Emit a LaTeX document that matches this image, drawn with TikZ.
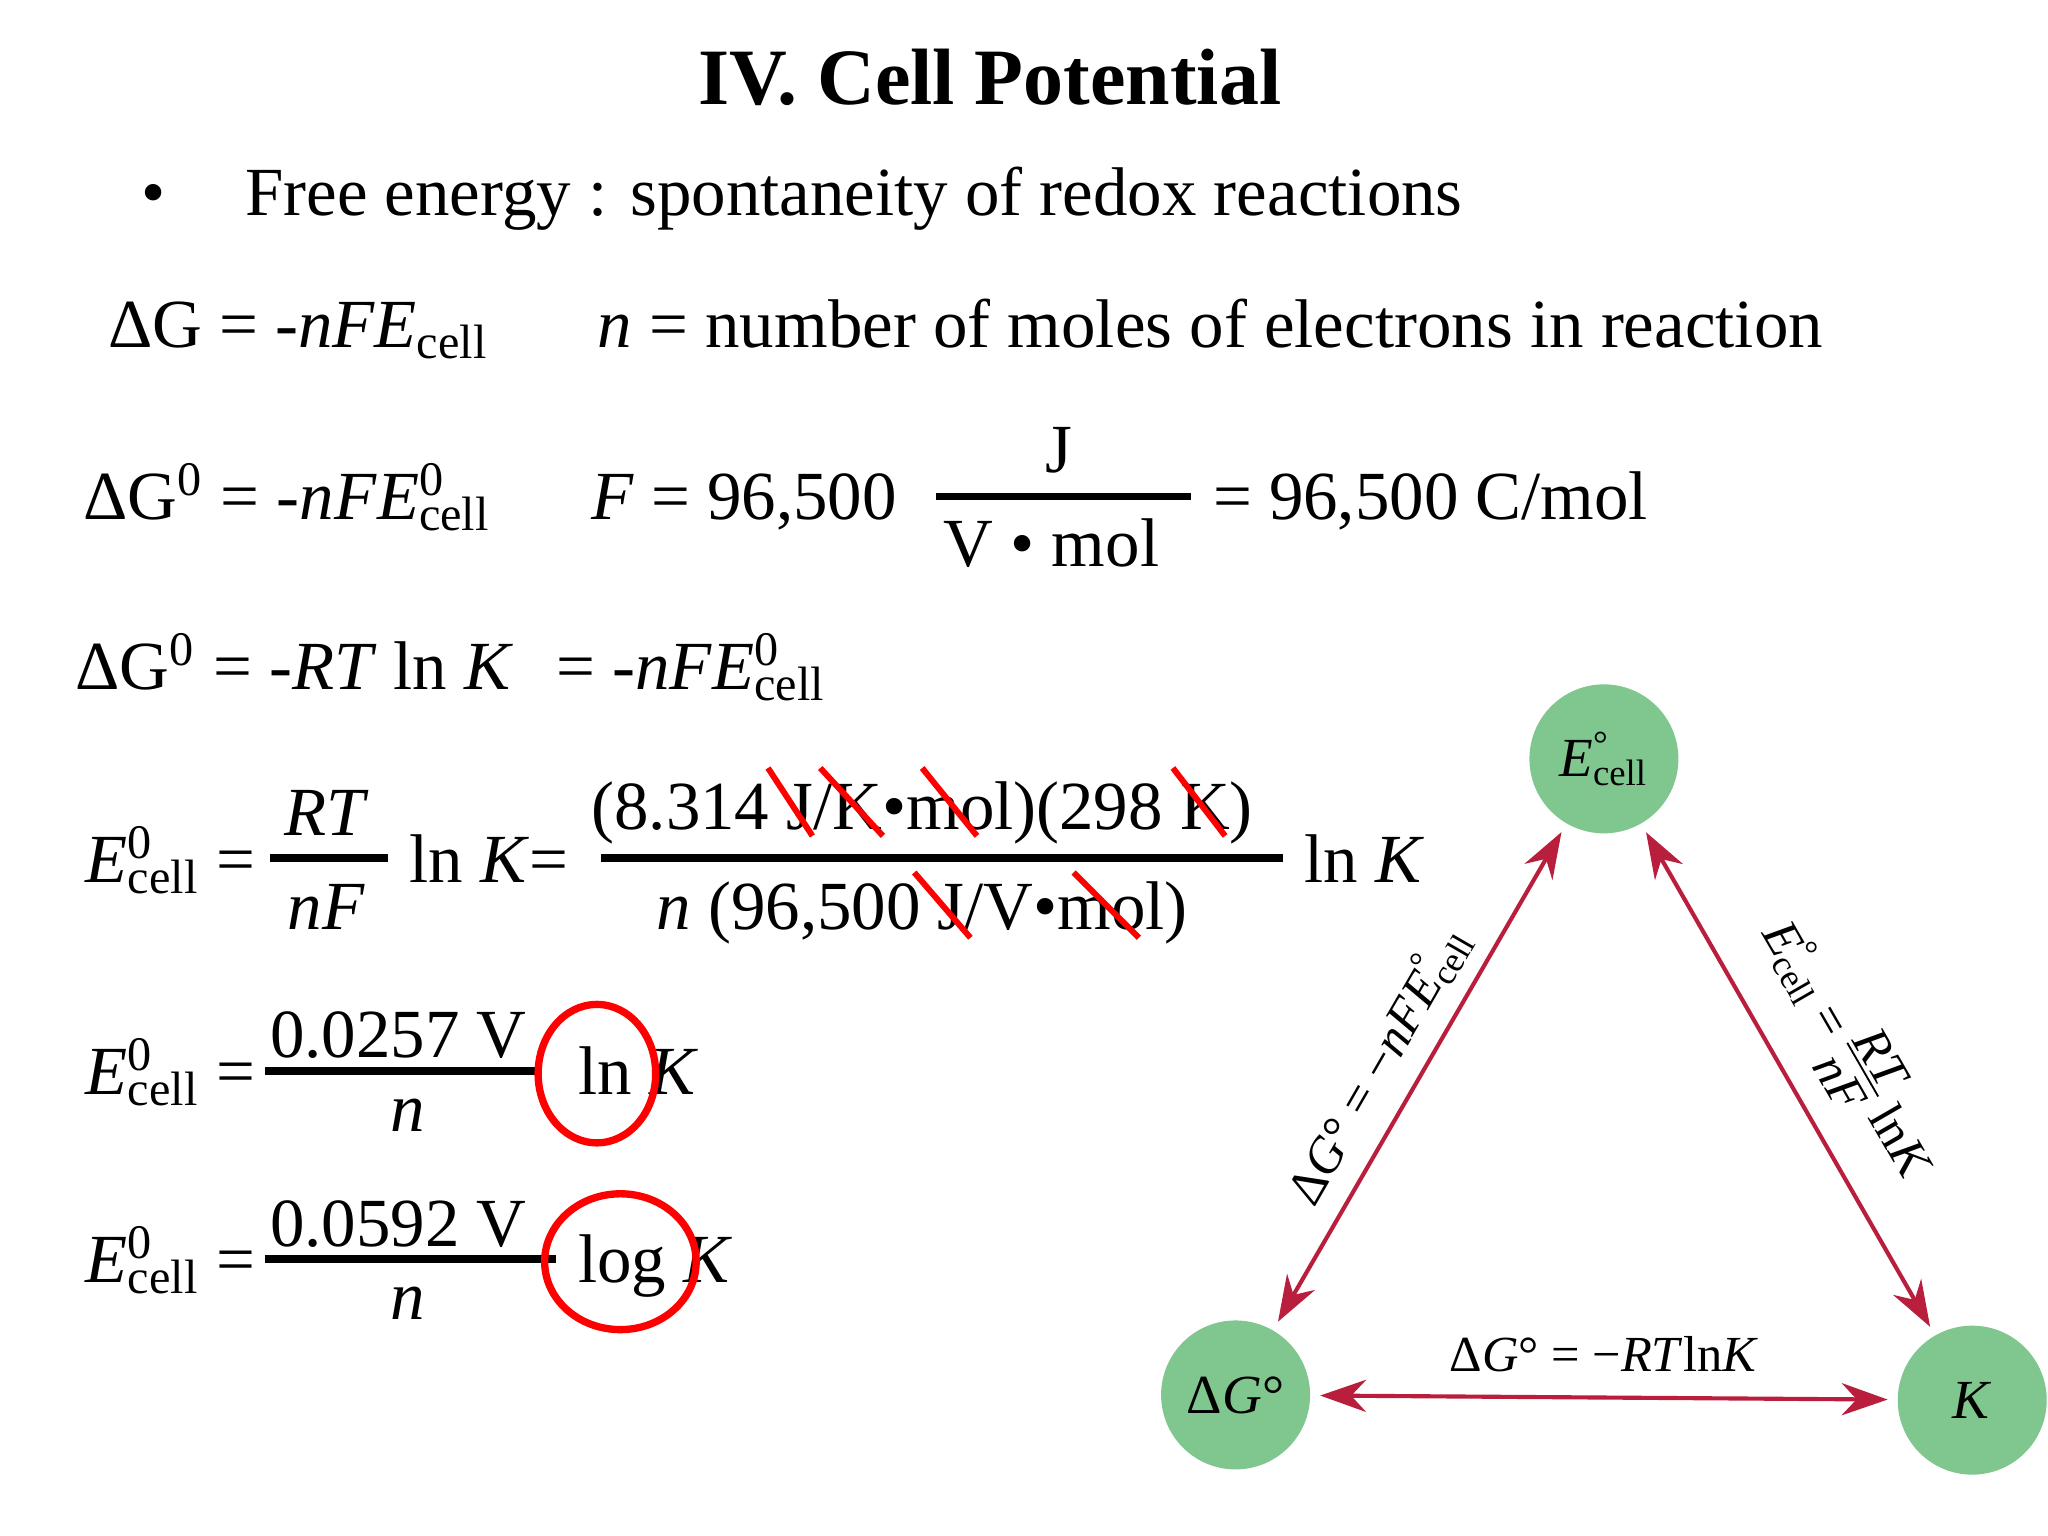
\documentclass[tikz,border=0pt]{standalone}
\usepackage{fontspec}
\setmainfont{Liberation Serif}
\usetikzlibrary{arrows.meta}
\newcommand{\Ez}{\textit{E}\rlap{\textsuperscript{0}}\textsubscript{cell}}
\newcommand{\Eo}{\textit{E}\rlap{\textsuperscript{°}}\textsubscript{cell}}
\definecolor{circ}{RGB}{128,198,143}
\definecolor{arr}{RGB}{185,30,60}
\tikzset{
 txt/.style={anchor=base west,inner sep=0,font=\fontsize{15}{18}\selectfont},
 ctxt/.style={anchor=base,inner sep=0,font=\fontsize{15}{18}\selectfont},
 bar/.style={line width=1.6pt},
 strike/.style={draw=red,line width=1.3pt},
 ring/.style={draw=red,line width=1.6pt},
 ball/.style={circle,fill=circ,minimum size=1.14cm,inner sep=0,font=\fontsize{12}{14}\selectfont},
 link/.style={draw=arr,line width=0.9pt,{Stealth[length=10pt,width=7pt]}-{Stealth[length=10pt,width=7pt]},shorten <=2pt,shorten >=2pt},
 tlab/.style={inner sep=0,font=\fontsize{11}{13}\selectfont}
}
\begin{document}
\begin{tikzpicture}[x=0.01cm,y=-0.01cm]
\useasboundingbox (0,0) rectangle (1568,1176);
\node[anchor=base,font=\fontsize{17.4}{21}\selectfont\bfseries] (title) at (758,80) {IV. Cell Potential};
\node[txt] (bul) at (108,165) {•};
\node[txt] (free) at (187,165) {Free energy : spontaneity of redox reactions};
\node[txt] (l1a) at (82,266) {ΔG = -\textit{nFE}\textsubscript{cell}};
\node[txt] (l1b) at (457,266) {\textit{n} = number of moles of electrons in reaction};
\node[txt] (l2a) at (63,398) {ΔG\textsuperscript{0} = -\textit{nF}\Ez};
\node[txt] (l2b) at (452,398) {\textit{F} = 96,500};
\draw[bar] (717,380) -- (912,380);
\node[ctxt] (J) at (811,362) {J};
\node[ctxt] (Vmol) at (805,434) {V • mol};
\node[txt] (l2c) at (928,398) {= 96,500 C/mol};
\node[txt] (l3a) at (57,528) {ΔG\textsuperscript{0} = -\textit{RT} ln \textit{K}};
\node[txt] (l3b) at (425,528) {= -\textit{nF}\Ez};
\node[txt] (l4a) at (65,676) {\Ez};
\node[txt] (l4eq) at (165,676) {=};
\draw[bar] (207,657) -- (297,657);
\node[ctxt] (RT) at (250,640) {\textit{RT}};
\node[ctxt] (nF) at (250,712) {\textit{nF}};
\node[txt] (l4b) at (313,676) {ln \textit{K}=};
\draw[bar] (460,657) -- (982,657);
\node[ctxt] (num) at (706,635) {(8.314 J/K•mol)(298 K)};
\node[ctxt] (den) at (706,712) {\textit{n} (96,500 J/V•mol)};
\node[txt] (l4c) at (998,676) {ln \textit{K}};
\draw[strike] (588,588)--(622,640) (628,588)--(676,640) (706,588)--(748,640) (898,588)--(938,640);
\draw[strike] (700,668)--(743,718) (822,668)--(872,718);
\node[txt] (l5a) at (65,838) {\Ez};
\node[txt] (l5eq) at (165,838) {=};
\draw[bar] (203,820) -- (412,820);
\node[ctxt] (n5a) at (305,810) {0.0257 V};
\node[ctxt] (n5b) at (312,866) {\textit{n}};
\node[txt] (l5b) at (442,838) {ln \textit{K}};
\draw[ring] (457,822) ellipse (45 and 53);
\node[txt] (l6a) at (65,982) {\Ez};
\node[txt] (l6eq) at (165,982) {=};
\draw[bar] (203,964) -- (426,964);
\node[ctxt] (n6a) at (305,954) {0.0592 V};
\node[ctxt] (n6b) at (312,1010) {\textit{n}};
\node[txt] (l6b) at (442,982) {log \textit{K}};
\draw[ring] (475,966) ellipse (58 and 52);
% triangle
\node[ball] (E) at (1228,581) {\Eo};
\node[ball] (G) at (946,1068) {Δ\textit{G}°};
\node[ball] (K) at (1510,1072) {\textit{K}};
\draw[link] (E) -- (G);
\draw[link] (E) -- (K);
\draw[link] (G) -- (K);
\node[tlab,rotate=60] (lg) at (1055,815) {Δ\textit{G}° = −\textit{nF}\Eo};
\node[tlab,rotate=-60] (lr) at (1412,805) {\Eo{} = \begin{tabular}{@{}c@{}}\textit{RT}\\[-3pt]\hline\textit{nF}\end{tabular} ln\textit{K}};
\node[tlab,anchor=base] (lb) at (1228,1050) {Δ\textit{G}° = −\textit{RT}ln\textit{K}};
\end{tikzpicture}
\end{document}
